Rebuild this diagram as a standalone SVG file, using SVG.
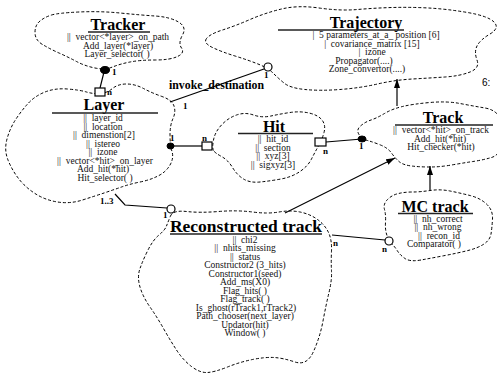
<svg xmlns="http://www.w3.org/2000/svg" width="497" height="377" viewBox="0 0 497 377" xml:space="preserve">
<defs>
<style>
.cloud{fill:none;stroke:#000;stroke-width:1;stroke-dasharray:3 2}
.t{font-family:"Liberation Serif","Times New Roman",serif;font-size:16px;font-weight:bold;text-anchor:middle;fill:#000}
.b{font-family:"Liberation Serif","Times New Roman",serif;font-size:9.5px;text-anchor:middle;fill:#111;white-space:pre}
.ul{stroke:#222;stroke-width:1.3}
.lab{font-family:"Liberation Serif","Times New Roman",serif;font-size:9px;font-weight:bold;fill:#000}
.ln{stroke:#000;stroke-width:1.2;fill:none}
.end{fill:#fff;stroke:#000;stroke-width:1.2}
.dot{fill:#000;stroke:#000}
</style>
<marker id="ah" markerWidth="9" markerHeight="6" refX="9" refY="3" orient="auto" markerUnits="userSpaceOnUse"><path d="M0,0 L9,3 L0,6 Z" fill="#000"/></marker>
</defs>
<rect width="497" height="377" fill="#fff"/>

<g id="tracker">
<path class="cloud" d="M51.5,15 Q58,13 79,12 Q100,11 120,13 Q140,15 155,16 Q170,17 178.5,22 Q187,27 182.5,35 Q178,43 181.5,48 Q185,53 177.5,56.5 Q170,60 155,60 Q140,60 130,62 Q120,64 112.5,67 Q105,70 95,68 Q85,66 76.5,61.5 Q68,57 59,53 Q50,49 42.5,44.5 Q35,40 35,32.5 Q35,25 40,21 Q45,17 51.5,15 Z"/>
<text class="t" x="118" y="29.5">Tracker</text>
<line class="ul" x1="88" y1="32" x2="150" y2="32"/>
<text class="b" x="118" y="40">||  vector&lt;*layer&gt;_on_path</text>
<text class="b" x="118" y="48.5">Add_layer(*layer)</text>
<text class="b" x="117" y="57">Layer_selector( )</text>
</g>

<g id="layer">
<path class="cloud" d="M100,93.5 Q107,93 112.5,88.5 Q118,84 126.5,84 Q135,84 143.5,88.5 Q152,93 162,96.5 Q172,100 174,106 Q176,112 173,118.5 Q170,125 170,135 Q170,145 172,151.5 Q174,158 170,165 Q166,172 158,176 Q150,180 140,182 Q130,184 121.5,187 Q113,190 104,193 Q95,196 82.5,200 Q70,204 57.5,202 Q45,200 35,193.5 Q25,187 18.5,178.5 Q12,170 8,160 Q4,150 7,139 Q10,128 16,119 Q22,110 28.5,103 Q35,96 45,92 Q55,88 67.5,89 Q80,90 86.5,92 Q93,94 100,93.5 Z"/>
<text class="t" x="104" y="110">Layer</text>
<line class="ul" x1="52" y1="113" x2="158" y2="113"/>
<text class="b" x="103" y="121">||  layer_id</text>
<text class="b" x="103" y="129.5">||  location</text>
<text class="b" x="104" y="138">||  dimenstion[2]</text>
<text class="b" x="103" y="146.5">||  istereo</text>
<text class="b" x="103" y="155">||  izone</text>
<text class="b" x="105" y="163.5">||  vector&lt;*hit&gt;_on_layer</text>
<text class="b" x="103" y="172">Add_hit(*hit)</text>
<text class="b" x="105" y="180.5">Hit_selector( )</text>
</g>

<g id="hit">
<path class="cloud" d="M213.5,150.5 Q212,148 213.5,140 Q215,132 221.5,125 Q228,118 236.5,115 Q245,112 253.5,115 Q262,118 271,116 Q280,114 290,112.5 Q300,111 309,113 Q318,115 322,120 Q326,125 324,132.5 Q322,140 318.5,146 Q315,152 311.5,159 Q308,166 300,171.5 Q292,177 281,179 Q270,181 260,182 Q250,183 243.5,179 Q237,175 232.5,167.5 Q228,160 221.5,156.5 Q215,153 213.5,150.5 Z"/>
<text class="t" x="274" y="132">Hit</text>
<line class="ul" x1="238" y1="133.5" x2="313" y2="133.5"/>
<text class="b" x="273" y="142">||  hit_id</text>
<text class="b" x="273" y="150.5">||  section</text>
<text class="b" x="273" y="159">||  xyz[3]</text>
<text class="b" x="273" y="167.5">||  sigxyz[3]</text>
</g>

<g id="trajectory">
<path class="cloud" d="M206.5,38.5 Q203,43 212.5,47.5 Q222,52 235,56 Q248,60 258,64 Q268,68 273,73 Q278,78 284,83 Q290,88 305,89.5 Q320,91 340,89.5 Q360,88 377.5,84 Q395,80 412.5,79 Q430,78 445,77 Q460,76 470,72 Q480,68 477,60 Q474,52 477,46 Q480,40 490,34 Q500,28 494,22 Q488,16 467.5,12.5 Q447,9 428.5,8 Q410,7 392.5,7.5 Q375,8 357.5,9.5 Q340,11 319,8 Q298,5 281.5,9 Q265,13 250,19.5 Q235,26 222.5,30 Q210,34 206.5,38.5 Z"/>
<text class="t" x="366" y="27.5">Trajectory</text>
<line class="ul" x1="278" y1="30" x2="404" y2="30"/>
<text class="b" x="376" y="38">|  5 parameters_at_a_ position [6]</text>
<text class="b" x="372" y="46.5">|  covariance_matrix [15]</text>
<text class="b" x="372" y="55">|  izone</text>
<text class="b" x="364" y="63.5">Propagator(....)</text>
<text class="b" x="367" y="72">Zone_convertor(....)</text>
</g>

<g id="track">
<path class="cloud" d="M367.5,140.5 Q362,139 359,134.5 Q356,130 360.5,126 Q365,122 371,120 Q377,118 384.5,113.5 Q392,109 402.5,106.5 Q413,104 430,102.5 Q447,101 460,103.5 Q473,106 485,108 Q497,110 501,120 Q505,130 502.5,142.5 Q500,155 491.5,157.5 Q483,160 473,161.5 Q463,163 451.5,165 Q440,167 430,167 Q420,167 411.5,166 Q403,165 399,161.5 Q395,158 391.5,153 Q388,148 380.5,145 Q373,142 367.5,140.5 Z"/>
<text class="t" x="443" y="123">Track</text>
<line class="ul" x1="395" y1="125" x2="493" y2="125"/>
<text class="b" x="441" y="133">||  vector&lt;*hit&gt;_on_track</text>
<text class="b" x="440" y="141.5">Add_hit(*hit)</text>
<text class="b" x="441" y="150">Hit_checker(*hit)</text>
</g>

<g id="mc_track">
<path class="cloud" d="M392,244 Q389,241 387,235.5 Q385,230 385.5,222.5 Q386,215 384.5,209.5 Q383,204 387.5,199.5 Q392,195 398.5,193.5 Q405,192 412.5,192 Q420,192 430,190.5 Q440,189 450,191 Q460,193 470,195.5 Q480,198 486.5,204 Q493,210 492.5,219 Q492,228 491,234 Q490,240 484,244 Q478,248 468,250.5 Q458,253 445,255.5 Q432,258 421,260 Q410,262 405,258.5 Q400,255 397.5,251 Q395,247 392,244 Z"/>
<text class="t" x="435" y="212">MC track</text>
<line class="ul" x1="398" y1="213.5" x2="473" y2="213.5"/>
<text class="b" x="438" y="221.5">||  nh_correct</text>
<text class="b" x="438" y="230">||  nh_wrong</text>
<text class="b" x="439" y="238.5">||  recon_id</text>
<text class="b" x="434" y="247">Comparator( )</text>
</g>

<g id="reconstructed_track">
<path class="cloud" d="M170.5,216 Q173,210 186.5,211.5 Q200,213 218.5,211.5 Q237,210 252.5,212 Q268,214 279,212 Q290,210 300,212 Q310,214 317.5,219.5 Q325,225 328.5,232.5 Q332,240 331.5,251 Q331,262 331.5,271 Q332,280 329,292.5 Q326,305 323,321 Q320,337 313.5,351.5 Q307,366 295,362 Q283,358 274,357.5 Q265,357 252.5,359.5 Q240,362 227.5,367 Q215,372 207.5,372.5 Q200,373 191.5,366.5 Q183,360 176.5,350 Q170,340 163.5,328.5 Q157,317 150,307 Q143,297 140,287 Q137,277 140,268.5 Q143,260 148,250 Q153,240 159,235 Q165,230 166.5,226 Q168,222 170.5,216 Z"/>
<text class="t" x="246" y="232" style="font-size:17.5px">Reconstructed track</text>
<line class="ul" x1="170" y1="234" x2="322" y2="234"/>
<text class="b" x="245" y="242.5">||  chi2</text>
<text class="b" x="245" y="251">||  nhits_missing</text>
<text class="b" x="245" y="259.5">||  status</text>
<text class="b" x="245" y="268">Constructor2 (3_hits)</text>
<text class="b" x="245" y="276.5">Constructor1(seed)</text>
<text class="b" x="245" y="285">Add_ms(X0)</text>
<text class="b" x="245" y="293.5">Flag_hits( )</text>
<text class="b" x="245" y="302">Flag_track( )</text>
<text class="b" x="246" y="310.5">Is_ghost(rTrack1,rTrack2)</text>
<text class="b" x="245" y="319">Path_chooser(next_layer)</text>
<text class="b" x="245" y="327.5">Updator(hit)</text>
<text class="b" x="245" y="336">Window( )</text>
</g>

<g id="connectors">
<line class="ln" x1="104" y1="72" x2="100" y2="88"/>
<ellipse class="dot" cx="105" cy="70" rx="4.5" ry="3.5"/>
<rect class="end" x="95" y="88" width="10" height="8"/>
<text class="lab" x="112" y="75">1</text>
<text class="lab" x="107" y="95">n</text>
<line class="ln" x1="170" y1="102" x2="264" y2="69"/>
<circle class="end" cx="268" cy="67" r="4"/>
<text class="lab" x="264" y="78">1</text>
<text class="lab" x="183" y="109">1</text>
<text x="169" y="89" style="font-family:'Liberation Serif','Times New Roman',serif;font-size:11.8px;font-weight:bold">invoke_destination</text>
<line class="ln" x1="170" y1="146" x2="202" y2="146"/>
<ellipse class="dot" cx="170.5" cy="146" rx="3.5" ry="3"/>
<rect class="end" x="202" y="142" width="10" height="8"/>
<text class="lab" x="170" y="141">1</text>
<text class="lab" x="202" y="141">n</text>
<line class="ln" x1="326" y1="142" x2="362" y2="139"/>
<rect class="end" x="315" y="138" width="11" height="8"/>
<ellipse class="dot" cx="362" cy="139" rx="4" ry="3"/>
<text class="lab" x="323" y="154">n</text>
<text class="lab" x="359" y="149">1</text>
<line class="ln" x1="285" y1="213" x2="395" y2="158" marker-end="url(#ah)"/>
<line class="ln" x1="430" y1="191" x2="430" y2="166" marker-end="url(#ah)"/>
<line class="ln" x1="397" y1="106" x2="397" y2="79" marker-end="url(#ah)"/>
<line class="ln" x1="332" y1="235" x2="385" y2="240"/>
<circle class="end" cx="389" cy="241" r="4"/>
<text class="lab" x="333" y="246">n</text>
<text class="lab" x="382" y="252">n</text>
<polyline class="ln" points="115,194 125,205 167,208"/>
<circle class="end" cx="171" cy="209" r="4"/>
<text class="lab" x="100" y="204">1..3</text>
<text class="lab" x="163" y="218">1</text>
</g>

<text x="482" y="86" style="font-family:'Liberation Sans',Arial,sans-serif;font-size:10px;fill:#000">6:</text>
</svg>
